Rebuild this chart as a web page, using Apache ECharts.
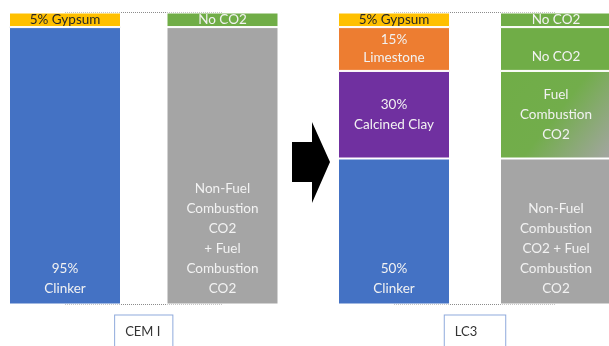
<!DOCTYPE html>
<html>
<head>
<meta charset="utf-8">
<script src="https://cdn.jsdelivr.net/npm/echarts@6/dist/echarts.min.js"></script>
<style>
  html, body { margin: 0; padding: 0; background: #fff; }
  #chart { width: 609px; height: 346px; }
</style>
</head>
<body>
<div id="chart"></div>
<script>
// Cement recipes: composition column next to its CO2 column, CEM I vs LC3
const groups = ['CEM I', 'LC3'];
const columns = ['Composition', 'CO2'];
const components = ['Clinker', 'Calcined Clay', 'Limestone', 'Gypsum']; // bottom to top
const cemIShares = [95, 0, 0, 5];
const lc3Shares = [50, 30, 15, 5];
const cemICo2Notes = ['Non-Fuel\nCombustion\nCO2\n+ Fuel\nCombustion\nCO2', '', '', 'No CO2'];
const lc3Co2Notes = ['Non-Fuel\nCombustion\nCO2 + Fuel\nCombustion\nCO2', 'Fuel\nCombustion\nCO2', 'No CO2', 'No CO2'];

const FONT = 'Lato';
const materialColors = {
  'Clinker': '#4472C4',
  'Calcined Clay': '#7030A0',
  'Limestone': '#ED7D31',
  'Gypsum': '#FFC000'
};
const GREEN = '#70AD47';
const GREY = '#A5A5A5';
const co2Colors = {
  'Clinker': GREY,
  'Calcined Clay': {
    type: 'linear', x: 0, y: 0, x2: 1, y2: 1,
    colorStops: [
      { offset: 0, color: GREEN },
      { offset: 0.5, color: '#72AD4B' },
      { offset: 1, color: GREY }
    ]
  },
  'Limestone': GREEN,
  'Gypsum': GREEN
};

function materialLabel(name, share) {
  if (name === 'Gypsum') return share + '% ' + name;
  return share + '%\n' + name;
}

function labelFor(name, text, isMaterial) {
  const base = {
    show: true,
    formatter: text,
    fontFamily: FONT,
    fontSize: 13.5,
    lineHeight: 20,
    color: '#F2F2F2'
  };
  if (name === 'Gypsum') {
    return Object.assign(base, { position: 'inside', color: isMaterial ? '#262626' : '#F2F2F2', lineHeight: 14 });
  }
  if (name === 'Clinker') {
    return Object.assign(base, { position: 'insideBottom', distance: 6 });
  }
  if (name === 'Limestone') {
    return Object.assign(base, isMaterial
      ? { position: 'inside', lineHeight: 18 }
      : { position: 'insideBottom', distance: 4 });
  }
  return Object.assign(base, { position: 'inside' });
}

const shareSets = [cemIShares, lc3Shares];
const noteSets = [cemICo2Notes, lc3Co2Notes];

const series = [];
shareSets.forEach((shares, g) => {
  components.forEach((name, i) => {
    const share = shares[i];
    if (!share) return;
    series.push({
      type: 'bar',
      name: groups[g] + ' ' + name,
      xAxisIndex: g,
      yAxisIndex: g,
      stack: groups[g],
      barWidth: 112,
      clip: false,
      z: 3,
      data: [
        {
          value: share,
          itemStyle: { color: materialColors[name] },
          label: labelFor(name, materialLabel(name, share), true)
        },
        {
          value: share,
          itemStyle: { color: co2Colors[name] },
          label: labelFor(name, noteSets[g][i], false)
        }
      ],
      itemStyle: { borderColor: '#ffffff', borderWidth: 1 },
      emphasis: { disabled: true }
    });
  });
});

const gridBoxes = [
  { left: 65, right: 386.5, top: 12.5, bottom: 41.5, outerBoundsMode: 'none', containLabel: false },
  { left: 394, right: 53, top: 12.5, bottom: 41.5, outerBoundsMode: 'none', containLabel: false }
];
const namePadding = [[10, 12, 20, 10], [10, 28, 20, 10]];

const chart = echarts.init(document.getElementById('chart'), null, { renderer: 'canvas' });
chart.setOption({
  animation: false,
  backgroundColor: '#ffffff',
  grid: gridBoxes,
  xAxis: groups.map((g, k) => ({
    type: 'category',
    gridIndex: k,
    data: columns,
    boundaryGap: false,
    axisLine: { show: false },
    axisTick: { show: false },
    axisLabel: { show: false },
    name: g,
    nameLocation: 'middle',
    nameGap: 11,
    nameTextStyle: {
      fontFamily: FONT,
      fontSize: 13,
      color: '#333333',
      borderColor: '#8FAADC',
      borderWidth: 1,
      padding: namePadding[k],
      backgroundColor: '#ffffff'
    }
  })),
  yAxis: groups.map((g, k) => ({
    type: 'value',
    gridIndex: k,
    min: 0,
    max: 100,
    interval: 100,
    axisLine: { show: false },
    axisTick: { show: false },
    axisLabel: { show: false },
    splitLine: { show: true, lineStyle: { type: 'dotted', color: '#8C8C8C', width: 1 } }
  })),
  graphic: [{
    type: 'polygon',
    shape: {
      points: [[292, 142], [312, 142], [312, 122], [330, 162], [312, 203], [312, 182], [292, 182]]
    },
    style: { fill: '#000000' }
  }],
  series: series
});
</script>
</body>
</html>
